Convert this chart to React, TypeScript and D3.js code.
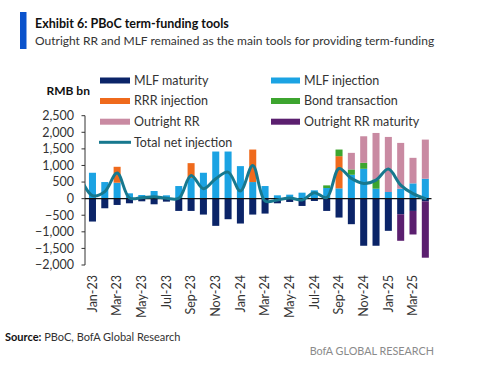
import React from 'react';
import * as d3 from 'd3';

// monthly data, RMB bn
const months = [
  'Jan-23', 'Feb-23', 'Mar-23', 'Apr-23', 'May-23', 'Jun-23', 'Jul-23', 'Aug-23', 'Sep-23', 'Oct-23', 'Nov-23', 'Dec-23',
  'Jan-24', 'Feb-24', 'Mar-24', 'Apr-24', 'May-24', 'Jun-24', 'Jul-24', 'Aug-24', 'Sep-24', 'Oct-24', 'Nov-24', 'Dec-24',
  'Jan-25', 'Feb-25', 'Mar-25', 'Apr-25',
];
const mlfInjection = [780, 500, 480, 160, 110, 230, 100, 380, 620, 780, 1420, 1420, 980, 500, 380, 100, 120, 180, 250, 320, 310, 720, 900, 300, 200, 300, 460, 600];
const rrrInjection = [0, 0, 480, 0, 0, 0, 0, 0, 450, 0, 0, 0, 0, 980, 0, 0, 0, 0, 0, 0, 970, 0, 0, 0, 0, 0, 0, 0];
const bondTransaction = [0, 0, 0, 0, 0, 0, 0, 0, 0, 0, 0, 0, 0, 0, 0, 0, 0, 0, 0, 80, 200, 160, 180, 280, 0, 0, 0, 0];
const outrightRR = [0, 0, 0, 0, 0, 0, 0, 0, 0, 0, 0, 0, 0, 0, 0, 0, 0, 0, 0, 0, 0, 500, 800, 1400, 1660, 1380, 770, 1180];
const mlfMaturity = [-690, -290, -190, -140, -80, -170, -90, -370, -370, -480, -820, -620, -750, -480, -450, -140, -100, -220, -70, -370, -570, -770, -1420, -1420, -970, -470, -370, -80];
const outrightRRMaturity = [0, 0, 0, 0, 0, 0, 0, 0, 0, 0, 0, 0, 0, 0, 0, 0, 0, 0, 0, 0, 0, 0, 0, 0, 0, -800, -710, -1700];
const netInjection = [90, 210, 770, 20, 30, 60, 10, 10, 700, 300, 600, 800, 230, 1000, -70, -40, 20, -40, 180, 30, 910, 610, 460, 560, 890, 410, 150, 0];
// the line carries on from Dec-22, cut off at the axis
const netLead = 650;

const yTicks = [2500, 2000, 1500, 1000, 500, 0, -500, -1000, -1500, -2000];
const xTickLabels = ['Jan-23', 'Mar-23', 'May-23', 'Jul-23', 'Sep-23', 'Nov-23', 'Jan-24', 'Mar-24', 'May-24', 'Jul-24', 'Sep-24', 'Nov-24', 'Jan-25', 'Mar-25'];

const series = [
  { key: 'mlfInj', name: 'MLF injection', values: mlfInjection, color: '#1ba3e3' },
  { key: 'rrr', name: 'RRR injection', values: rrrInjection, color: '#ef6a1c' },
  { key: 'bond', name: 'Bond transaction', values: bondTransaction, color: '#3da52f' },
  { key: 'oRR', name: 'Outright RR', values: outrightRR, color: '#c98aa2' },
  { key: 'mlfMat', name: 'MLF maturity', values: mlfMaturity, color: '#0b2468' },
  { key: 'oRRMat', name: 'Outright RR maturity', values: outrightRRMaturity, color: '#5b1f6f' },
];
const colorOf = (k: string) => series.find(s => s.key === k)!.color;

const W = 477;
const H = 373;
const FONT = 'Lato, "Open Sans", sans-serif';
const TEXT = '#333';

export default function App() {
  const table = months.map((m, i) => {
    const row: any = { month: m };
    series.forEach(s => { row[s.key] = s.values[i]; });
    return row;
  });
  const stacked = d3.stack<any>()
    .keys(series.map(s => s.key))
    .offset(d3.stackOffsetDiverging)(table);

  const axisX = 85;
  const x = d3.scaleBand<string>().domain(months).range([86.3, 431.5]).paddingInner(0.43).paddingOuter(0.215);
  const y = d3.scaleLinear().domain([-2000, 2500]).range([265, 115.7]);
  const cx = (m: string) => (x(m) as number) + x.bandwidth() / 2;

  const linePts: [number, number][] = [
    [cx(months[0]) - x.step(), y(netLead)],
    ...months.map((m, i) => [cx(m), y(netInjection[i])] as [number, number]),
  ];
  const lineGen = d3.line().curve(d3.curveCatmullRom.alpha(0.5));

  const legendLeft = [
    { key: 'mlfMat', name: 'MLF maturity' },
    { key: 'rrr', name: 'RRR injection' },
    { key: 'oRR', name: 'Outright RR' },
  ];
  const legendRight = [
    { key: 'mlfInj', name: 'MLF injection' },
    { key: 'bond', name: 'Bond transaction' },
    { key: 'oRRMat', name: 'Outright RR maturity' },
  ];
  const rowY = [80.5, 101, 121.7, 142.3];

  return (
    <div style={{ position: 'absolute', left: 0, top: 0 }}>
      <svg width={W} height={H} style={{ display: 'block', background: '#fff' }} fontFamily={FONT}>
        <defs>
          <clipPath id="plot-clip">
            <rect x={axisX} y={100} width={360} height={180} />
          </clipPath>
        </defs>

        {/* header */}
        <rect x={20} y={12} width={6.5} height={37} fill="#0a52cc" />
        <text x={35} y={28} fontSize={12.5} fontWeight={700} fill="#111">Exhibit 6: PBoC term-funding tools</text>
        <text x={35} y={45} fontSize={12} fill={TEXT}>Outright RR and MLF remained as the main tools for providing term-funding</text>

        {/* legend */}
        <text x={46.5} y={95} fontSize={12} fontWeight={700} fill="#111">RMB bn</text>
        {legendLeft.map((l, i) => (
          <g key={l.key}>
            <rect x={100} y={rowY[i] - 3} width={30} height={6} fill={colorOf(l.key)} />
            <text x={134} y={rowY[i]} dy="0.35em" fontSize={12.5} fill={TEXT}>{l.name}</text>
          </g>
        ))}
        <line x1={99} x2={131} y1={rowY[3]} y2={rowY[3]} stroke="#17788e" strokeWidth={3} />
        <text x={134} y={rowY[3]} dy="0.35em" fontSize={12.5} fill={TEXT}>Total net injection</text>
        {legendRight.map((l, i) => (
          <g key={l.key}>
            <rect x={271} y={rowY[i] - 3} width={29} height={6} fill={colorOf(l.key)} />
            <text x={304} y={rowY[i]} dy="0.35em" fontSize={12.5} fill={TEXT}>{l.name}</text>
          </g>
        ))}

        {/* y axis */}
        <line x1={axisX} x2={axisX} y1={y(2500)} y2={y(-2000)} stroke="#333" strokeWidth={1} />
        {yTicks.map(t => (
          <g key={t}>
            <line x1={axisX - 3.5} x2={axisX} y1={y(t)} y2={y(t)} stroke="#333" strokeWidth={1} />
            <text x={74} y={y(t)} dy="0.35em" textAnchor="end" fontSize={12.5} fill={TEXT}>{d3.format(',')(t)}</text>
          </g>
        ))}

        {/* bars */}
        {stacked.map(layer => (
          <g key={layer.key} fill={colorOf(layer.key)}>
            {layer.map((d, i) => {
              const h = Math.abs(y(d[0]) - y(d[1]));
              if (h < 0.01) return null;
              return (
                <rect key={i} x={x(months[i])} width={x.bandwidth()}
                  y={Math.min(y(d[0]), y(d[1]))} height={h} />
              );
            })}
          </g>
        ))}

        {/* zero line */}
        <line x1={axisX} x2={431.5} y1={y(0)} y2={y(0)} stroke="#111" strokeWidth={1.2} />

        {/* net injection line */}
        <path d={lineGen(linePts) || ''} fill="none" stroke="#17788e" strokeWidth={3}
          strokeLinejoin="round" strokeLinecap="round" clipPath="url(#plot-clip)" />

        {/* x labels */}
        {xTickLabels.map(m => (
          <text key={m} transform={`translate(${cx(m)},275) rotate(-90)`} dy="0.35em"
            textAnchor="end" fontSize={12.5} fill={TEXT}>{m}</text>
        ))}

        {/* footer */}
        <text x={5} y={341} fontSize={11} fill={TEXT}>
          <tspan fontWeight={700} fill="#111">Source:</tspan> PBoC, BofA Global Research
        </text>
        <text x={434} y={355} textAnchor="end" fontSize={10.8} fill="#8a8a8a">BofA GLOBAL RESEARCH</text>
      </svg>
    </div>
  );
}
